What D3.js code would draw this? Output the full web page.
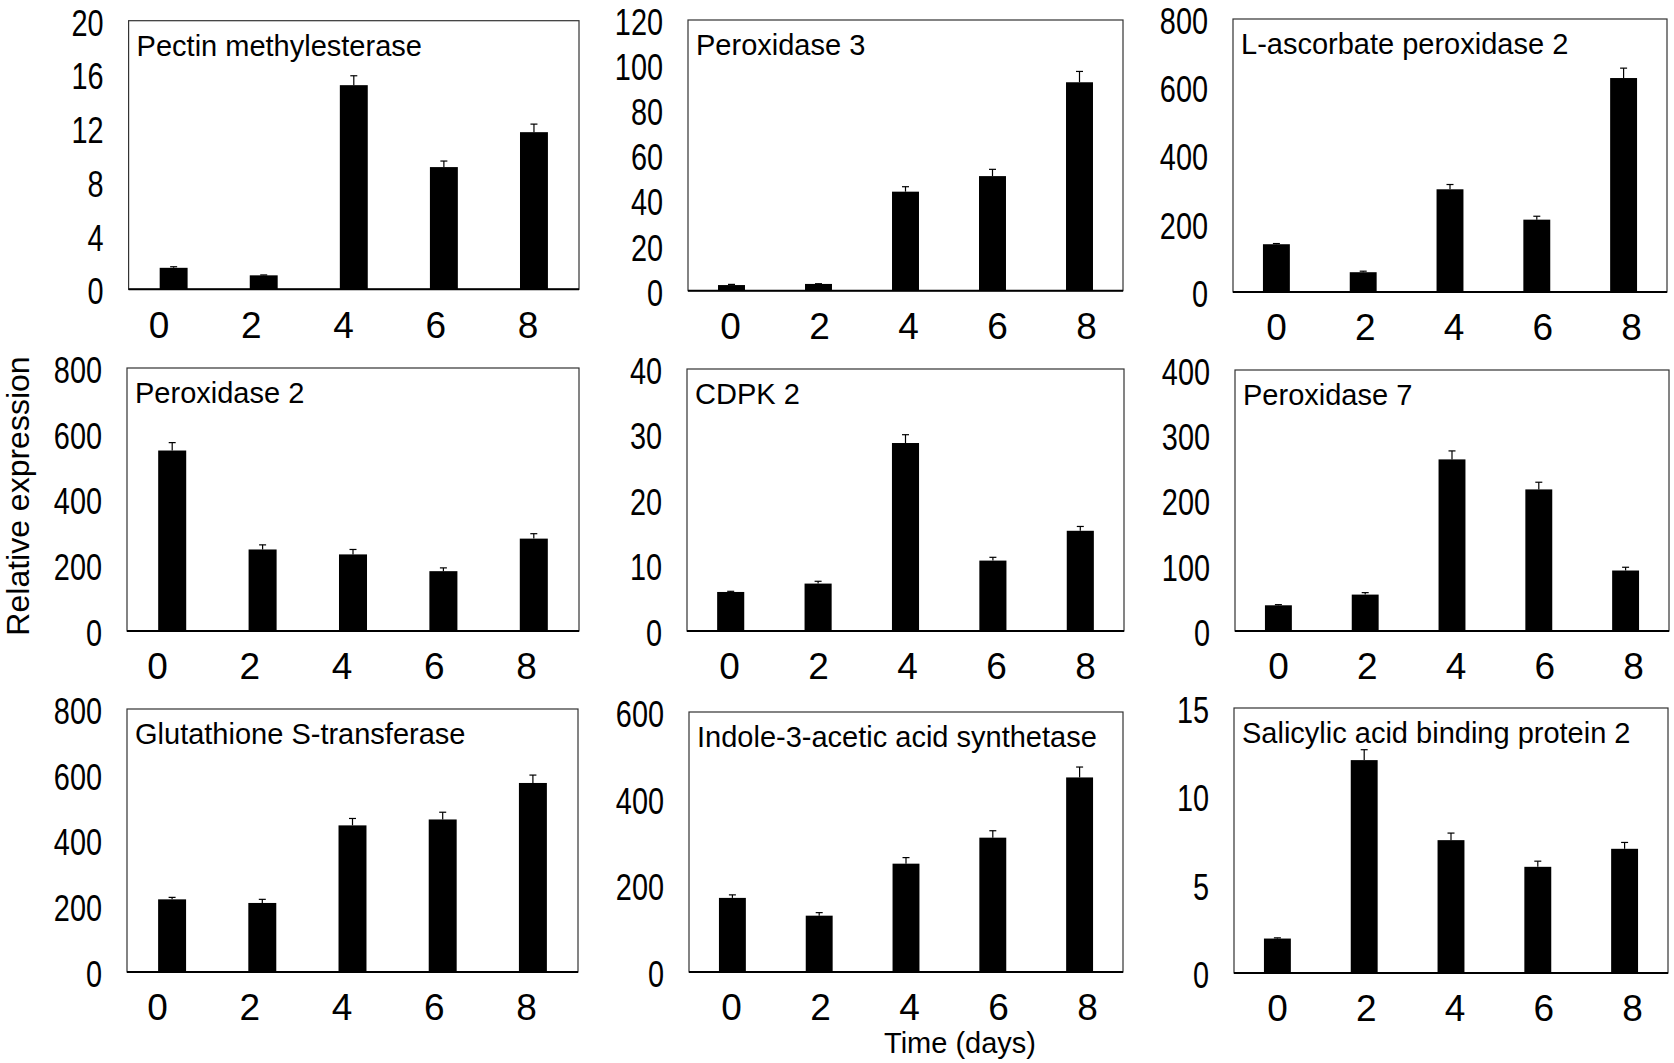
<!DOCTYPE html>
<html>
<head>
<meta charset="utf-8">
<script src="https://d3js.org/d3.v7.min.js"></script>
<style>
  body { margin: 0; background: #fff; }
  text { font-family: "Liberation Sans", Arial, Helvetica, sans-serif; fill: #000; }
</style>
</head>
<body>
<script>
// sampling days (x categories)
var days = ["0", "2", "4", "6", "8"];

// gene names, one per panel (row by row)
var genes = ["Pectin methylesterase", "Peroxidase 3", "L-ascorbate peroxidase 2",
             "Peroxidase 2", "CDPK 2", "Peroxidase 7",
             "Glutathione S-transferase", "Indole-3-acetic acid synthetase", "Salicylic acid binding protein 2"];

// relative expression (means) and error bars
var pectinMean   = [1.6, 1.04, 15.2, 9.1, 11.7];
var pectinErr    = [0.08, 0.03, 0.7, 0.45, 0.6];
var perox3Mean   = [2.5, 3.0, 43.9, 50.8, 92.4];
var perox3Err    = [0.3, 0.1, 2.2, 3.0, 4.8];
var ascorbMean   = [140, 58, 301, 212, 627];
var ascorbErr    = [2, 3, 14, 10, 29];
var perox2Mean   = [549, 248, 233, 182, 281];
var perox2Err    = [24, 14, 15, 10, 15];
var cdpkMean     = [5.96, 7.24, 28.7, 10.75, 15.3];
var cdpkErr      = [0.1, 0.35, 1.27, 0.5, 0.66];
var perox7Mean   = [39.4, 55.8, 263, 217, 92.7];
var perox7Err    = [1, 3, 13, 11, 5];
var gstMean      = [221, 210, 446, 464, 575];
var gstErr       = [6, 11, 21, 22, 24];
var iaaMean      = [171, 130, 250, 310, 449];
var iaaErr       = [7, 7, 14, 16, 24];
var sabpMean     = [1.95, 12.05, 7.52, 6.01, 7.03];
var sabpErr      = [0.04, 0.59, 0.4, 0.32, 0.36];

// y axis maximum and tick step for each panel
var yMax  = [20, 120, 800, 800, 40, 400, 800, 600, 15];
var yStep = [4, 20, 200, 200, 10, 100, 200, 200, 5];

var means = [pectinMean, perox3Mean, ascorbMean, perox2Mean, cdpkMean, perox7Mean, gstMean, iaaMean, sabpMean];
var errs  = [pectinErr, perox3Err, ascorbErr, perox2Err, cdpkErr, perox7Err, gstErr, iaaErr, sabpErr];

// panel boxes: left, top, right, bottom (pixels)
var boxes = [
  [128.6, 20.7, 579, 289.3], [688, 20, 1123, 290.7], [1233, 19, 1667, 292],
  [127, 368, 579, 631],      [687, 369, 1124, 631],  [1235, 370, 1669, 631],
  [127, 709, 578, 972],      [689, 712, 1123, 972],  [1234, 708, 1668, 973]
];
// day labels sit on their own span under each column (offset from box left)
var labelSpan = [[30, 399], [42, 398], [43, 398]];

var W = 1674, H = 1063;
var svg = d3.select("body").append("svg").attr("width", W).attr("height", H);

boxes.forEach(function(b, p) {
  var w = b[2] - b[0], h = b[3] - b[1];
  var g = svg.append("g").attr("transform", "translate(" + b[0] + "," + b[1] + ")");

  var x = d3.scaleBand().domain(days).range([0, w]).paddingInner(0.69).paddingOuter(0.345);
  var xl = d3.scalePoint().domain(days).range(labelSpan[p % 3]);
  var y = d3.scaleLinear().domain([0, yMax[p]]).range([h, 0]);

  var rows = days.map(function(d, i) { return {day: d, v: means[p][i], e: errs[p][i]}; });

  // frame
  g.append("rect").attr("width", w).attr("height", h)
    .attr("fill", "none").attr("stroke", "#333").attr("stroke-width", 1.2);

  // bars
  g.selectAll("rect.bar").data(rows).enter().append("rect")
    .attr("class", "bar")
    .attr("x", function(d) { return x(d.day); })
    .attr("y", function(d) { return y(d.v); })
    .attr("width", x.bandwidth())
    .attr("height", function(d) { return h - y(d.v); })
    .attr("fill", "#000");

  // error bars
  var eb = g.selectAll("g.err").data(rows).enter().append("g").attr("class", "err")
    .attr("transform", function(d) { return "translate(" + (x(d.day) + x.bandwidth() / 2) + ",0)"; });
  eb.append("line")
    .attr("y1", function(d) { return y(d.v); })
    .attr("y2", function(d) { return y(d.v + d.e); })
    .attr("stroke", "#000").attr("stroke-width", 1.2);
  eb.append("line")
    .attr("x1", -3.5).attr("x2", 3.5)
    .attr("y1", function(d) { return y(d.v + d.e); })
    .attr("y2", function(d) { return y(d.v + d.e); })
    .attr("stroke", "#000").attr("stroke-width", 1.2);

  // baseline
  g.append("line").attr("x1", 0).attr("x2", w).attr("y1", h).attr("y2", h)
    .attr("stroke", "#000").attr("stroke-width", 2);

  // y axis (labels only, narrow figures)
  var ya = g.append("g")
    .call(d3.axisLeft(y).tickValues(d3.range(0, yMax[p] + yStep[p] / 2, yStep[p])).tickSize(0).tickPadding(25));
  ya.select(".domain").remove();
  ya.selectAll("text")
    .attr("font-size", 37)
    .attr("font-family", null)
    .attr("dy", "0.39em")
    .attr("x", -25 / 0.78)
    .attr("transform", "scale(0.78,1)");

  // x axis labels
  var xa = g.append("g").attr("transform", "translate(0," + h + ")")
    .call(d3.axisBottom(xl).tickSize(0).tickPadding(22));
  xa.select(".domain").remove();
  xa.selectAll("text").attr("font-size", 37).attr("font-family", null);

  // gene label
  g.append("text")
    .attr("x", 8).attr("y", 35)
    .attr("font-size", 29)
    .text(genes[p]);
});

// axis titles
svg.append("text")
  .attr("transform", "translate(29,496) rotate(-90)")
  .attr("text-anchor", "middle")
  .attr("font-size", 32)
  .text("Relative expression");

svg.append("text")
  .attr("x", 960).attr("y", 1053)
  .attr("text-anchor", "middle")
  .attr("font-size", 29)
  .text("Time (days)");
</script>
</body>
</html>
